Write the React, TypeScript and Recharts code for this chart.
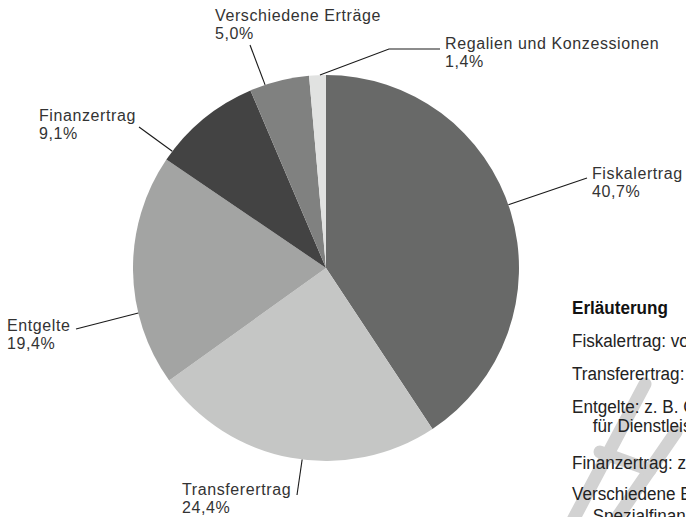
import { PieChart, Pie, Cell } from 'recharts'

// Ertragsarten und Anteile in Prozent
const categories = ['Fiskalertrag', 'Transferertrag', 'Entgelte', 'Finanzertrag', 'Verschiedene Erträge', 'Regalien und Konzessionen']
const shares = [40.7, 24.4, 19.4, 9.1, 5.0, 1.4]
const colors = ['#686968', '#c5c6c5', '#a3a4a3', '#434343', '#808180', '#e1e2e1']

const notes = [
  'Fiskalertrag: vor allem Steuern',
  'Transferertrag: Beiträge von Bund und Kanton',
  'Entgelte: z. B. Gebühren, Erlöse',
  'für Dienstleistungen',
  'Finanzertrag: z. B. Zinsen, Mieten',
  'Verschiedene Erträge: z. B. Entnahmen aus',
  'Spezialfinanzierungen',
]

const data = categories.map((name, i) => ({ name, value: shares[i] }))

// where the leader line touches the pie (deg clockwise from 12 o'clock), the bends and the text box
const labelLayout: Record<string, { angle: number; pts: number[][]; tx: number; ty: number }> = {
  'Fiskalertrag': { angle: 70.9, pts: [[587, 178]], tx: 592, ty: 173 },
  'Transferertrag': { angle: 187.1, pts: [[297, 495]], tx: 182, ty: 489 },
  'Entgelte': { angle: 256.5, pts: [[76, 329]], tx: 7, ty: 325 },
  'Finanzertrag': { angle: 307.2, pts: [[139, 127]], tx: 39, ty: 115 },
  'Verschiedene Erträge': { angle: 341.6, pts: [[250, 45]], tx: 215, ty: 15 },
  'Regalien und Konzessionen': { angle: 358.2, pts: [[389, 49], [440, 49]], tx: 445, ty: 43 },
}

const fmt = (v: number) => v.toFixed(1).replace('.', ',') + '%'

const renderLabel = (props: any) => {
  const { cx, cy, outerRadius, name, value } = props
  const l = labelLayout[name]
  if (!l) return null
  const a = (l.angle * Math.PI) / 180
  const sx = cx + outerRadius * Math.sin(a)
  const sy = cy - outerRadius * Math.cos(a)
  const points = [[sx, sy], ...l.pts].map((p) => p.join(',')).join(' ')
  return (
    <g>
      <polyline points={points} fill="none" stroke="#1a1a1a" strokeWidth={1.1} />
      <text x={l.tx} y={l.ty + 6} fill="#333" fontSize={16} letterSpacing={0.6} fontFamily="'Liberation Sans', Arial, sans-serif">
        {name}
      </text>
      <text x={l.tx} y={l.ty + 24} fill="#333" fontSize={16} letterSpacing={0.6} fontFamily="'Liberation Sans', Arial, sans-serif">
        {fmt(value)}
      </text>
    </g>
  )
}

export default function App() {
  return (
    <div style={{ position: 'absolute', left: 0, top: 0, width: 686, height: 517, overflow: 'hidden', background: '#fff' }}>
      <PieChart width={686} height={517} margin={{ top: 0, right: 0, bottom: 0, left: 0 }}>
        <Pie
          data={data}
          dataKey="value"
          nameKey="name"
          cx={326}
          cy={268}
          outerRadius={193}
          startAngle={90}
          endAngle={-270}
          stroke="none"
          label={renderLabel}
          labelLine={false}
          isAnimationActive={false}
        >
          {data.map((d, i) => (
            <Cell key={d.name} fill={colors[i]} />
          ))}
        </Pie>
      </PieChart>

      {/* watermark strokes + explanation box */}
      <svg width={686} height={517} style={{ position: 'absolute', left: 0, top: 0 }}>
        <g stroke="#d2d2d2" strokeWidth={13} fill="none" strokeLinecap="round">
          <line x1={645} y1={384} x2={572} y2={522} />
          <line x1={676} y1={432} x2={614} y2={522} />
          <line x1={600} y1={452} x2={650} y2={470} />
        </g>
        <g transform="translate(572,0) scale(0.9,1)" fontFamily="'Liberation Sans', Arial, sans-serif" fontSize={19} fill="#222">
          <text x={0} y={314} fontWeight="bold" fill="#111">Erläuterung</text>
          <text x={0} y={347}>{notes[0]}</text>
          <text x={0} y={380}>{notes[1]}</text>
          <text x={0} y={413}>{notes[2]}</text>
          <text x={23} y={432}>{notes[3]}</text>
          <text x={0} y={469}>{notes[4]}</text>
          <text x={0} y={500}>{notes[5]}</text>
          <text x={23} y={522}>{notes[6]}</text>
        </g>
      </svg>
    </div>
  )
}
